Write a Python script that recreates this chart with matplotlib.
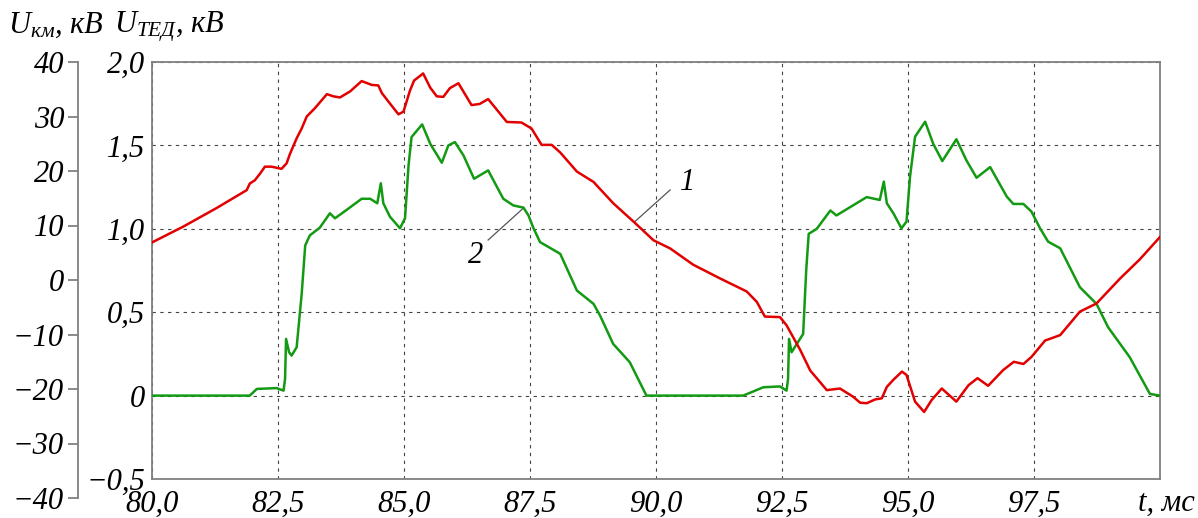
import matplotlib
matplotlib.use("Agg")
import matplotlib.pyplot as plt

# time, ms (curve 1)
t_red = [80.0, 80.62, 81.28, 81.88, 81.94, 82.04, 82.15, 82.24, 82.37, 82.57,
         82.67, 82.74, 82.87, 82.97, 83.07, 83.23, 83.47, 83.60, 83.73, 83.93,
         84.16, 84.36, 84.49, 84.56, 84.72, 84.89, 84.99, 85.12, 85.20, 85.38,
         85.52, 85.65, 85.78, 85.91, 86.08, 86.34, 86.50, 86.67, 87.04, 87.33,
         87.53, 87.73, 87.93, 88.10, 88.43, 88.76, 89.15, 89.58, 89.95, 90.28,
         90.74, 91.27, 91.80, 92.00, 92.16, 92.46, 92.59, 92.86, 93.06, 93.39,
         93.65, 93.91, 94.05, 94.18, 94.35, 94.48, 94.58, 94.71, 94.88, 94.97,
         95.14, 95.32, 95.47, 95.67, 95.96, 96.20, 96.38, 96.59, 96.89, 97.10,
         97.29, 97.45, 97.72, 98.02, 98.41, 98.74, 99.21, 99.60, 100.0]
# U_km, kV (curve 1)
u_km = [6.9, 9.8, 13.2, 16.5, 17.7, 18.3, 19.6, 20.8, 20.8, 20.4,
        21.4, 23.2, 26.0, 27.8, 30.0, 31.5, 34.1, 33.7, 33.5, 34.6,
        36.5, 35.8, 35.7, 34.3, 32.4, 30.4, 30.9, 34.8, 36.6, 37.9,
        35.3, 33.7, 33.6, 35.2, 36.1, 32.1, 32.3, 33.2, 29.0, 28.9,
        27.8, 24.8, 24.8, 23.4, 19.9, 18.0, 14.1, 10.5, 7.3, 5.8,
        2.8, 0.3, -2.1, -4.0, -6.7, -6.8, -8.3, -12.8, -16.6, -20.2,
        -19.9, -21.4, -22.5, -22.6, -21.9, -21.7, -19.6, -18.3, -16.8, -17.4,
        -22.3, -24.2, -22.0, -19.9, -22.3, -19.3, -18.0, -19.4, -16.5, -15.0,
        -15.4, -14.1, -11.1, -10.1, -5.8, -4.3, 0.3, 3.8, 7.9]

# time, ms (curve 2)
t_green = [80.0, 81.94, 82.08, 82.47, 82.61, 82.64, 82.66, 82.72, 82.77, 82.87,
           82.97, 83.04, 83.13, 83.33, 83.53, 83.63, 83.86, 84.16, 84.33, 84.47,
           84.54, 84.59, 84.72, 84.92, 85.02, 85.09, 85.15, 85.36, 85.52, 85.75,
           85.88, 86.01, 86.18, 86.39, 86.67, 86.97, 87.17, 87.37, 87.47, 87.57,
           87.70, 88.10, 88.43, 88.76, 88.89, 89.15, 89.48, 89.81, 91.73, 92.13,
           92.46, 92.59, 92.62, 92.64, 92.69, 92.92, 92.98, 93.03, 93.19, 93.46,
           93.58, 94.18, 94.44, 94.52, 94.58, 94.71, 94.87, 94.97, 95.04, 95.14,
           95.34, 95.50, 95.68, 95.96, 96.16, 96.36, 96.63, 96.96, 97.09, 97.29,
           97.45, 97.62, 97.78, 98.02, 98.41, 98.74, 98.97, 99.40, 99.80, 100.0]
# U_TED, kV (curve 2)
u_ted = [0.0, 0.0, 0.04, 0.045, 0.03, 0.10, 0.34, 0.26, 0.24, 0.29,
         0.61, 0.90, 0.96, 1.007, 1.093, 1.063, 1.113, 1.18, 1.18, 1.153,
         1.273, 1.153, 1.073, 1.003, 1.063, 1.38, 1.55, 1.626, 1.51, 1.396,
         1.50, 1.52, 1.44, 1.30, 1.35, 1.18, 1.14, 1.127, 1.08, 1.003,
         0.92, 0.85, 0.63, 0.55, 0.48, 0.31, 0.20, 0.0, 0.0, 0.05,
         0.055, 0.03, 0.10, 0.34, 0.26, 0.37, 0.75, 0.97, 1.00, 1.11,
         1.08, 1.19, 1.173, 1.283, 1.153, 1.093, 1.003, 1.043, 1.312, 1.552,
         1.642, 1.51, 1.406, 1.537, 1.41, 1.306, 1.37, 1.193, 1.149, 1.149,
         1.103, 1.003, 0.923, 0.883, 0.65, 0.55, 0.41, 0.23, 0.01, 0.0]

x_ticks = [80.0, 82.5, 85.0, 87.5, 90.0, 92.5, 95.0, 97.5]
x_labels = ["80,0", "82,5", "85,0", "87,5", "90,0", "92,5", "95,0", "97,5"]
ted_ticks = [-0.5, 0.0, 0.5, 1.0, 1.5, 2.0]
ted_labels = ["\u22120,5", "0", "0,5", "1,0", "1,5", "2,0"]
km_ticks = [-40, -30, -20, -10, 0, 10, 20, 30, 40]
km_labels = ["\u221240", "\u221230", "\u221220", "\u221210", "0", "10", "20", "30", "40"]

plt.rcParams["font.family"] = "Liberation Serif"
plt.rcParams["font.style"] = "italic"
plt.rcParams["mathtext.fontset"] = "custom"
plt.rcParams["mathtext.it"] = "Liberation Serif:italic"
plt.rcParams["mathtext.rm"] = "Liberation Serif:italic"

W, H = 1198, 518
FS = 22
frame_col = "#808080"

fig = plt.figure(figsize=(W / 100, H / 100), dpi=100)

# main plot area (U_TED scale)
ax = fig.add_axes([152 / W, 39 / H, 1008 / W, 417 / H])
ax.set_xlim(80, 100)
ax.set_ylim(-0.5, 2.0)
ax.set_xticks(x_ticks)
ax.set_xticklabels(x_labels)
ax.set_yticks(ted_ticks)
ax.set_yticklabels(ted_labels)
ax.tick_params(axis="both", length=0, labelsize=FS)
ax.tick_params(axis="y", pad=5)
ax.tick_params(axis="x", pad=8)
for s in ax.spines.values():
    s.set_color(frame_col)
    s.set_linewidth(1.3)
ax.grid(True, color="#444444", linestyle=(0, (3, 4)), linewidth=0.8)

# twin for U_km inside the plot area
ax2 = ax.twinx()
ax2.set_ylim(-36.5, 40)
ax2.set_yticks([])
for s in ax2.spines.values():
    s.set_visible(False)

ax.plot(t_green, u_ted, color="#139a13", linewidth=1.8, zorder=3,
        solid_joinstyle="round")
ax2.plot(t_red, u_km, color="#e30000", linewidth=1.8, zorder=3,
         solid_joinstyle="round")

# separate U_km scale on the far left
axk = fig.add_axes([78 / W, 20 / H, 0.0001, 436 / H])
axk.set_ylim(-40, 40)
axk.set_xticks([])
axk.set_yticks(km_ticks)
axk.set_yticklabels(km_labels)
axk.patch.set_visible(False)
for k in ["top", "right", "bottom"]:
    axk.spines[k].set_visible(False)
axk.spines["left"].set_color(frame_col)
axk.spines["left"].set_linewidth(1.3)
axk.tick_params(axis="y", length=7, width=1.3, color=frame_col, pad=3, labelsize=FS)

# curve labels with leader lines
ax.plot([90.28, 89.58], [1.233, 1.043], color="#555555", linewidth=0.9)
ax.text(90.62, 1.28, "1", fontsize=FS, ha="center", va="center")
ax.plot([86.67, 87.38], [0.933, 1.127], color="#555555", linewidth=0.9)
ax.text(86.42, 0.84, "2", fontsize=FS, ha="center", va="center")

# axis titles
fig.text(8 / W, 1 - 33 / H, r"$U_{км}$, кВ", fontsize=FS, va="baseline", ha="left")
fig.text(114 / W, 1 - 33 / H, r"$U_{ТЕД}$, кВ", fontsize=FS, va="baseline", ha="left")
fig.text(1166 / W, 1 - 511 / H, "t, мс", fontsize=FS, va="baseline", ha="center")

fig.savefig("out.png", dpi=100)
